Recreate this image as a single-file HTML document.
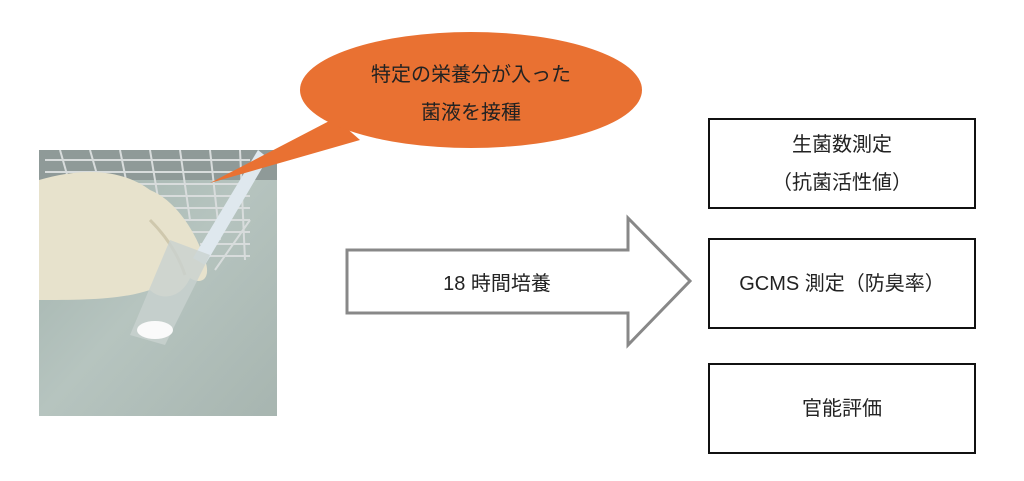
<!DOCTYPE html>
<html><head><meta charset="utf-8"><style>
body{margin:0;width:1024px;height:481px;background:#fff;overflow:hidden;font-family:"Liberation Sans","Noto Sans CJK JP",sans-serif}
.box{position:absolute;left:708px;width:264px;border:2px solid #111;display:flex;align-items:center;justify-content:center;text-align:center;font-size:20px;line-height:38px;color:#222}
</style></head><body>
<svg width="1024" height="481" style="position:absolute;left:0;top:0">
<defs>
<linearGradient id="bg" x1="0" y1="0" x2="1" y2="1">
<stop offset="0" stop-color="#9fb0ab"/><stop offset="0.5" stop-color="#b6c4bf"/><stop offset="1" stop-color="#a7b5b0"/></linearGradient>
<clipPath id="c"><rect x="39" y="150" width="238" height="266"/></clipPath>
</defs>
<g clip-path="url(#c)">
<rect x="39" y="150" width="238" height="266" fill="url(#bg)"/>
<rect x="39" y="150" width="238" height="30" fill="#8f9a98"/>
<g stroke="#d8dcdc" stroke-width="2" fill="none">
<path d="M45 160 L250 160 M45 172 L250 172 M60 184 L250 184 M120 196 L250 196 M150 208 L250 208 M170 220 L250 220 M190 232 L250 232 M200 244 L250 244 M210 256 L250 256"/>
<path d="M60 150 L70 185 M90 150 L100 185 M120 150 L130 200 M150 150 L160 210 M180 150 L190 220 M210 150 L220 240 M240 150 L245 260 M250 220 L215 270"/>
</g>
<path d="M39 180 C80 168 120 168 150 190 C175 200 195 230 205 260 C212 280 200 285 190 278 C180 300 160 300 150 290 C120 300 80 300 39 300 Z" fill="#e7e2cc"/>
<path d="M150 220 C170 240 180 260 185 275" stroke="#cfc8ad" stroke-width="3" fill="none"/>
<path d="M258 150 L268 158 L205 265 L193 258 Z" fill="#dfe8ee"/>
<path d="M170 240 L210 255 L165 345 L130 335 Z" fill="#c9d2d0" opacity="0.8"/>
<ellipse cx="155" cy="330" rx="18" ry="9" fill="#fafafa"/>
</g>
<path d="M335 118 L210 183 L360 140 Z" fill="#e97132"/>
<ellipse cx="471" cy="90" rx="171" ry="58" fill="#e97132"/>
<path d="M347 250 L628 250 L628 218 L690 281 L628 345 L628 313 L347 313 Z" fill="#fff" stroke="#888" stroke-width="3"/>
<text x="471" y="81" font-size="20" text-anchor="middle" fill="#222" font-family="Liberation Sans,Noto Sans CJK JP,sans-serif">特定の栄養分が入った</text>
<text x="471" y="119" font-size="20" text-anchor="middle" fill="#222" font-family="Liberation Sans,Noto Sans CJK JP,sans-serif">菌液を接種</text>
<text x="497" y="290" font-size="20" text-anchor="middle" fill="#222" font-family="Liberation Sans,Noto Sans CJK JP,sans-serif">18 時間培養</text>
</svg>
<div class="box" style="top:118px;height:87px">生菌数測定<br>（抗菌活性値）</div>
<div class="box" style="top:238px;height:87px">GCMS 測定（防臭率）</div>
<div class="box" style="top:363px;height:87px">官能評価</div>
</body></html>
